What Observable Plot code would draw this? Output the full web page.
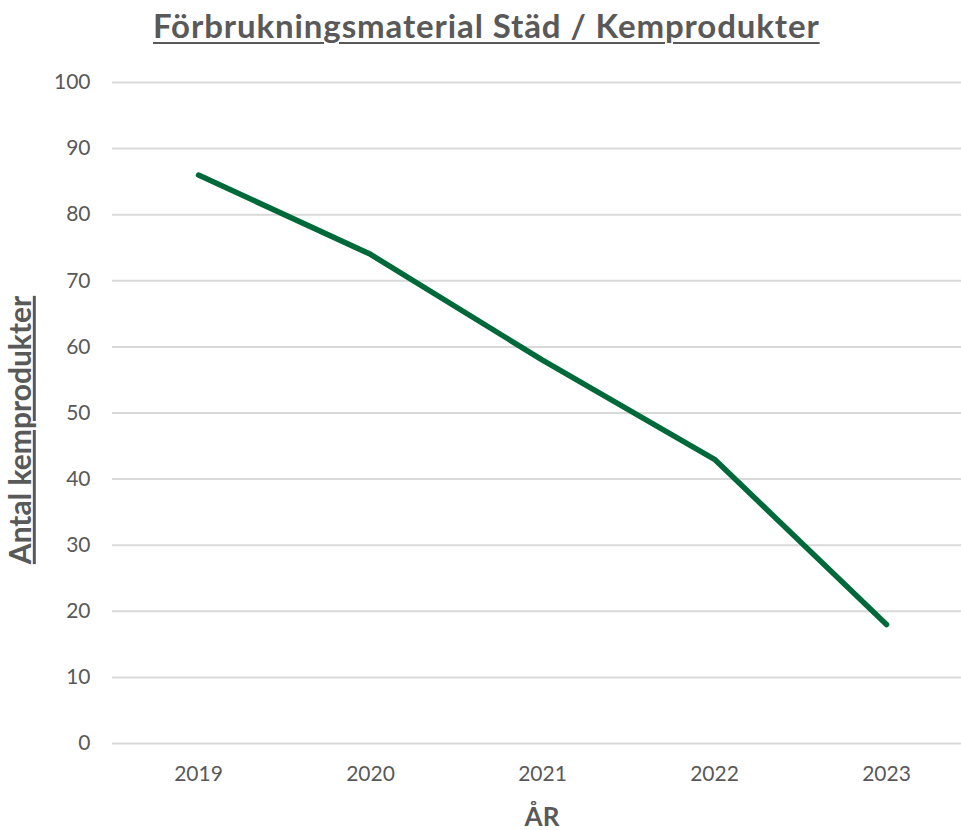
<!DOCTYPE html>
<html>
<head>
<meta charset="utf-8">
<script src="https://cdn.jsdelivr.net/npm/d3@7"></script>
<script src="https://cdn.jsdelivr.net/npm/@observablehq/plot@0.6"></script>
<style>
  html, body { margin: 0; padding: 0; background: #fff; }
  #wrap { position: relative; width: 961px; height: 830px; font-family: Lato, "Open Sans", sans-serif; overflow: hidden; }
  #title { position: absolute; left: 153px; top: 6px; white-space: nowrap; line-height: 1.2;
           font-size: 33px; font-weight: bold; color: #595959; text-decoration: underline; letter-spacing: 0.9px;
           text-decoration-thickness: 2px; text-underline-offset: 4px; }
  #chart { position: absolute; left: 0; top: 0; }
</style>
</head>
<body>
<div id="wrap">
  <div id="chart"></div>
  <div id="title"></div>
</div>
<script>
const years = ["2019", "2020", "2021", "2022", "2023"];
const values = [86, 74, 58, 43, 18];
const yTicks = [0, 10, 20, 30, 40, 50, 60, 70, 80, 90, 100];
const titleText = "Förbrukningsmaterial Städ / Kemprodukter";
const xLabel = "ÅR";
const yLabel = "Antal kemprodukter";

const data = years.map((y, i) => ({year: y, value: values[i]}));

const chart = Plot.plot({
  width: 961,
  height: 830,
  marginTop: 82,
  marginBottom: 87,
  marginLeft: 112,
  marginRight: 0,
  style: {fontFamily: "Lato, 'Open Sans', sans-serif", fontSize: "21px", color: "#595959", background: "white", overflow: "visible"},
  x: {type: "point", domain: years, range: [198, 886], padding: 0, label: null},
  y: {domain: [0, 100], label: null},
  marks: [
    Plot.ruleY(yTicks, {stroke: "#d9d9d9", strokeWidth: 2}),
    Plot.axisY(yTicks, {tickSize: 0, tickPadding: 22, fontSize: 21, fill: "#595959",
      label: yLabel, labelAnchor: "center", labelOffset: 103}),
    Plot.axisX(years, {tickSize: 0, tickPadding: 23, fontSize: 21, fill: "#595959",
      label: xLabel, labelAnchor: "center", labelOffset: 82}),
    Plot.line(data, {x: "year", y: "value", stroke: "#00693a", strokeWidth: 5.5, strokeLinejoin: "round", strokeLinecap: "round"})
  ]
});

// style axis labels (bold, underline for y label), remove arrows
const svg = d3.select(chart);
svg.selectAll("g[aria-label='y-axis label'] text").text(yLabel)
  .attr("font-weight", "bold").attr("font-size", 30).attr("fill", "#595959").attr("fill-opacity", 1)
  .attr("text-decoration", "underline").attr("dx", -17);
svg.selectAll("g[aria-label='x-axis label'] text").text(xLabel)
  .attr("font-weight", "bold").attr("font-size", 26).attr("fill", "#595959").attr("fill-opacity", 1)
  .attr("dx", 5);
svg.selectAll("g[aria-label='y-axis tick label'] text, g[aria-label='x-axis tick label'] text")
  .attr("fill-opacity", 1);

document.getElementById("chart").appendChild(chart);
document.getElementById("title").textContent = titleText;
</script>
</body>
</html>
